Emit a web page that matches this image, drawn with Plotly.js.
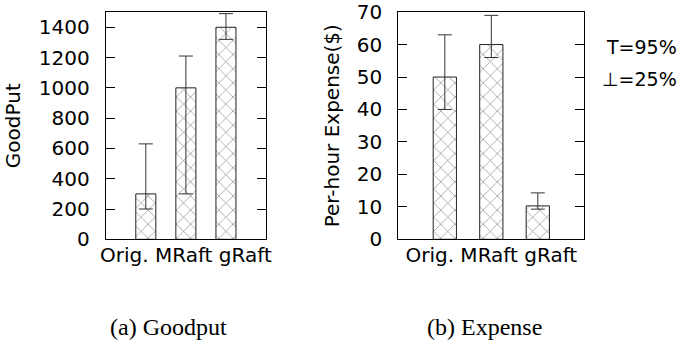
<!DOCTYPE html>
<html>
<head>
<meta charset="utf-8">
<script src="https://cdn.plot.ly/plotly-3.0.1.min.js"></script>
<style>html,body{margin:0;padding:0;background:#fff;}#chart{width:683px;height:341px;}</style>
</head>
<body>
<div id="chart"></div>
<script>
const categories = ["Orig.", "MRaft", "gRaft"];
const goodput = [300, 1000, 1400];
const goodputHigh = [630, 1210, 1490];
const goodputLow = [200, 300, 1320];
const expense = [50, 60, 10.3];
const expenseHigh = [63, 69, 14.3];
const expenseLow = [40, 56, 9.3];
const yTitles = ["GoodPut", "Per-hour Expense($)"];
const captions = ["(a) Goodput", "(b) Expense"];
const legendLines = ["T=95%", "\u22A5=25%"];

const sans = "DejaVu Sans";
const fs = 20;
const barStyle = {
  color: "#ffffff",
  line: {color: "#222222", width: 1},
  pattern: {shape: "x", fgcolor: "#808080", bgcolor: "#ffffff", size: 10, solidity: 0.12}
};
function errs(v, hi, lo) {
  return {
    type: "data", symmetric: false,
    array: v.map((d, i) => hi[i] - d),
    arrayminus: v.map((d, i) => d - lo[i]),
    color: "#333333", thickness: 1, width: 7
  };
}
const traces = [
  {type: "bar", x: categories, y: goodput, width: 0.5, marker: barStyle,
   error_y: errs(goodput, goodputHigh, goodputLow), xaxis: "x", yaxis: "y", showlegend: false, hoverinfo: "skip"},
  {type: "bar", x: categories, y: expense, width: 0.5, marker: barStyle,
   error_y: errs(expense, expenseHigh, expenseLow), xaxis: "x2", yaxis: "y2", showlegend: false, hoverinfo: "skip"}
];
const yDom = [0.2982, 0.9645];
function xAxis(dom) {
  return {
    domain: dom, type: "category", range: [-1, 3], showticklabels: false, ticks: "",
    showline: true, mirror: true, linecolor: "#000", linewidth: 1, showgrid: false, zeroline: false,
    fixedrange: true,
    title: {text: categories.join(" "), font: {family: sans, size: fs, color: "#000"}, standoff: 8}
  };
}
function yAxis(anchor, range, dtick, title, labelGap, titleStand) {
  return {
    domain: yDom, anchor: anchor, range: range, dtick: dtick, tick0: 0,
    ticks: "inside", ticklen: 9, tickcolor: "#000", tickwidth: 1,
    showline: true, mirror: "ticks", linecolor: "#000", linewidth: 1,
    showgrid: false, zeroline: false, fixedrange: true,
    ticklabelstandoff: labelGap,
    tickfont: {family: sans, size: fs, color: "#000"},
    title: {text: title, font: {family: sans, size: fs, color: "#000"}, standoff: titleStand}
  };
}
const capFont = {family: "Liberation Serif", size: 24, color: "#000"};
const legFont = {family: sans, size: 19, color: "#000"};
const layout = {
  width: 683, height: 341,
  margin: {l: 0, r: 0, t: 0, b: 0},
  paper_bgcolor: "#fff", plot_bgcolor: "#fff",
  xaxis: Object.assign(xAxis([0.1548, 0.3895]), {anchor: "y"}),
  yaxis: yAxis("x", [0, 1500], 200, yTitles[0], 11, 12),
  xaxis2: Object.assign(xAxis([0.5832, 0.8555]), {anchor: "y2"}),
  yaxis2: yAxis("x2", [0, 70], 10, yTitles[1], 11, 11),
  annotations: [
    {text: captions[0], xref: "paper", yref: "paper", x: 168 / 683, y: 1 - 327 / 341, xanchor: "center", yanchor: "middle",
     showarrow: false, font: capFont},
    {text: captions[1], xref: "paper", yref: "paper", x: 484 / 683, y: 1 - 327 / 341, xanchor: "center", yanchor: "middle",
     showarrow: false, font: capFont},
    {text: legendLines[0], xref: "paper", yref: "paper", x: 679 / 683, y: 1 - 46.5 / 341, xanchor: "right", yanchor: "middle",
     showarrow: false, font: legFont},
    {text: legendLines[1], xref: "paper", yref: "paper", x: 679 / 683, y: 1 - 79 / 341, xanchor: "right", yanchor: "middle",
     showarrow: false, font: legFont}
  ]
};
Plotly.newPlot("chart", traces, layout, {staticPlot: true, displayModeBar: false});
</script>
</body>
</html>
